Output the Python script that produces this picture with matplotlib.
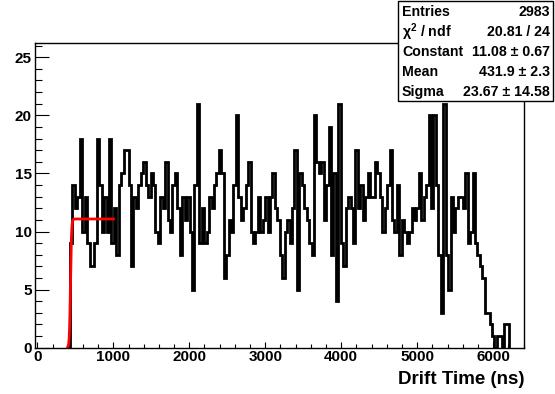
import numpy as np
import matplotlib
matplotlib.use("Agg")
import matplotlib.pyplot as plt
from matplotlib.ticker import MultipleLocator

plt.rcParams["font.family"] = ["Liberation Sans", "DejaVu Sans"]
plt.rcParams["font.weight"] = "bold"
plt.rcParams["mathtext.fontset"] = "custom"
plt.rcParams["mathtext.rm"] = "Liberation Sans:bold"
plt.rcParams["mathtext.bf"] = "Liberation Sans:bold"

# -------------------------------------------------------
# histogram contents, 32 ns bins
# -------------------------------------------------------
counts_a = [9, 14, 12, 13, 18, 10, 13, 9, 7, 7, 9, 18, 14, 10, 13, 10, 18, 9,
            12, 8, 14, 15, 17, 17, 14, 7, 13, 12, 14, 15, 16, 14, 13, 15, 14,
            10, 9, 13, 12, 16, 11, 10, 14, 15, 12, 8, 13, 11, 13, 10, 5, 14,
            21, 9, 12, 9]
counts_b = [10, 13, 12, 14, 15, 17, 15, 6, 8, 11, 10, 14, 20, 13, 11, 12, 14,
            16, 10, 9, 10, 13, 10, 11, 13, 10, 13, 15, 12, 11, 8, 6, 10, 11,
            9, 12, 17, 5, 15, 14, 12, 11, 9, 8, 20, 16, 15, 16, 11, 14, 19, 8,
            15, 4, 21, 9, 7, 12, 13, 12, 9, 17]
counts_c = [12, 14, 11, 13, 15, 13, 13, 16, 15, 13, 10, 12, 14, 17, 11, 10, 14,
            8, 11, 10, 9, 10, 12, 11, 12, 15, 11, 13, 14, 20, 12, 20, 14, 8, 3,
            21, 8, 5, 13, 10, 12, 13, 13, 12, 15, 9, 10, 15, 9, 8, 7, 6, 3, 3,
            2, 1, 0, 1, 1, 0, 2, 2]
counts = np.array(counts_a + counts_b + counts_c)

t_first = 430    # ns, lower edge of first filled bin
t_last = 6210    # ns, upper edge of last filled bin

# fit result (Fermi edge)
fit_const = 11.08
fit_mean = 436.0
fit_width = 7.0
fit_lo, fit_hi = 400, 1000

stats_names = ["Entries", "\u03c7$^{2}$ / ndf", "Constant", "Mean", "Sigma"]
stats_values = ["2983", "20.81 / 24", "11.08 \u00b1 0.67", "431.9 \u00b1 2.3",
                "23.67 \u00b1 14.58"]

# -------------------------------------------------------
# plot
# -------------------------------------------------------
fig = plt.figure(figsize=(5.55, 3.94), dpi=100)
ax = fig.add_axes([34.7 / 555, 1 - 347.7 / 394, (524.3 - 34.7) / 555,
                   (347.7 - 43.3) / 394])

edges = np.linspace(t_first, t_last, len(counts) + 1)
ax.stairs(counts, edges, color="black", lw=2.0, baseline=0)

fx = np.linspace(fit_lo, fit_hi, 200)
fy = fit_const / (1 + np.exp(-(fx - fit_mean) / fit_width))
ax.plot(fx, fy, color="red", lw=2.0)

ax.set_xlim(-35, 6410)
ax.set_ylim(0, 26.2)
ax.xaxis.set_major_locator(MultipleLocator(1000))
ax.xaxis.set_minor_locator(MultipleLocator(200))
ax.yaxis.set_major_locator(MultipleLocator(5))
ax.yaxis.set_minor_locator(MultipleLocator(1))
ax.tick_params(axis="x", which="major", direction="in", length=4.5, width=0.8,
               labelsize=11, pad=2)
ax.tick_params(axis="x", which="minor", direction="in", length=2.6, width=0.8)
ax.tick_params(axis="y", which="major", direction="in", length=10, width=0.8,
               labelsize=11, pad=2)
ax.tick_params(axis="y", which="minor", direction="in", length=5, width=0.8)
for lab in ax.get_xticklabels() + ax.get_yticklabels():
    lab.set_fontweight("bold")
for sp in ax.spines.values():
    sp.set_linewidth(1.0)

fig.text(524 / 555, 1 - 380 / 394, "Drift Time (ns)", ha="right", va="center",
         fontsize=13.5, fontweight="bold")

# stats box
box = plt.Rectangle((398 / 555, 1 - 101 / 394), (553 - 398) / 555,
                    (101 - 1.5) / 394, transform=fig.transFigure,
                    facecolor="white", edgecolor="black", lw=1.0, zorder=5)
fig.add_artist(box)
for i, (name, val) in enumerate(zip(stats_names, stats_values)):
    yy = 1 - (12 + 20 * i) / 394
    fig.text(402 / 555, yy, name, ha="left", va="center", fontsize=10.2,
             fontweight="bold", zorder=6)
    fig.text(550 / 555, yy, val, ha="right", va="center", fontsize=10.2,
             fontweight="bold", zorder=6)

fig.savefig("out.png", dpi=100)
